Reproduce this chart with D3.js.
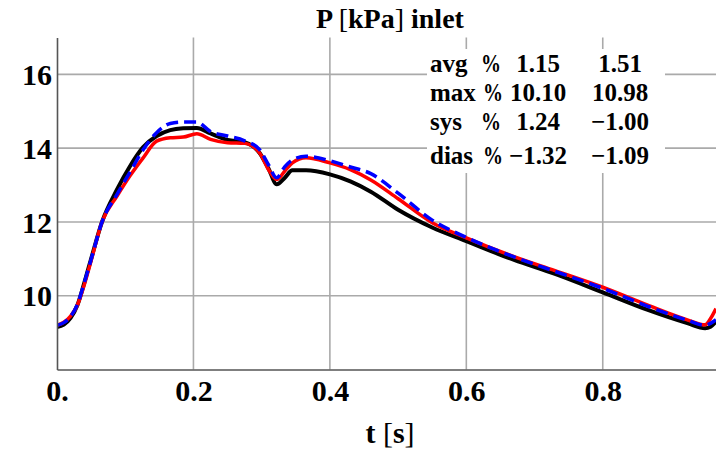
<!DOCTYPE html>
<html>
<head>
<meta charset="utf-8">
<script src="https://cdn.jsdelivr.net/npm/d3@7"></script>
<style>
  html, body { margin: 0; padding: 0; background: #fff; }
  svg { display: block; }
  text { font-family: "Liberation Serif", "DejaVu Serif", serif; }
</style>
</head>
<body>
<svg id="chart" width="716" height="454"></svg>
<script>
// ---- data ----
const time = [0, 0.01, 0.02, 0.03, 0.04, 0.05, 0.066, 0.088, 0.107, 0.126, 0.146, 0.166, 0.185, 0.205, 0.225, 0.25, 0.275, 0.297, 0.31, 0.322, 0.334, 0.345, 0.365, 0.4, 0.43, 0.46, 0.5, 0.55, 0.6, 0.67, 0.73, 0.8, 0.865, 0.925, 0.95, 0.958, 0.966];
const pressureBlack = [9.15, 9.22, 9.4, 9.75, 10.35, 11.0, 12.0, 12.88, 13.51, 14.02, 14.33, 14.49, 14.54, 14.55, 14.4, 14.22, 14.16, 13.87, 13.45, 13.02, 13.2, 13.4, 13.4, 13.29, 13.1, 12.82, 12.33, 11.85, 11.48, 10.97, 10.59, 10.09, 9.62, 9.25, 9.12, 9.16, 9.3];
const pressureRed   = [9.2, 9.28, 9.45, 9.75, 10.3, 10.95, 12.0, 12.7, 13.25, 13.73, 14.19, 14.28, 14.3, 14.39, 14.24, 14.15, 14.13, 13.87, 13.42, 13.15, 13.38, 13.6, 13.74, 13.6, 13.42, 13.14, 12.63, 11.98, 11.57, 11.06, 10.68, 10.23, 9.75, 9.34, 9.21, 9.38, 9.65];
const pressureBlue  = [9.2, 9.27, 9.44, 9.77, 10.35, 10.98, 12.0, 12.75, 13.35, 13.95, 14.42, 14.67, 14.71, 14.71, 14.45, 14.33, 14.2, 13.96, 13.55, 13.2, 13.5, 13.68, 13.78, 13.66, 13.49, 13.31, 12.78, 12.05, 11.58, 11.05, 10.66, 10.2, 9.72, 9.33, 9.2, 9.25, 9.35];

const xTicks = [0, 0.2, 0.4, 0.6, 0.8];
const xTickLabels = ["0.", "0.2", "0.4", "0.6", "0.8"];
const yTicks = [10, 12, 14, 16];
const yTickLabels = ["10", "12", "14", "16"];

const statRows = ["avg", "max", "sys", "dias"];
const statCol1 = ["1.15", "10.10", "1.24", "\u22121.32"];
const statCol2 = ["1.51", "10.98", "\u22121.00", "\u22121.09"];

// ---- layout ----
const svg = d3.select("#chart");
const mLeft = 57, mRight = 716, mTop = 37.5, mBottom = 369.5;
const x = d3.scaleLinear().domain([0, 0.966]).range([mLeft, mRight]);
const y = d3.scaleLinear().domain([8, 17]).range([mBottom, mTop]);

// grid
const grid = svg.append("g");
grid.selectAll("line.v").data(xTicks.slice(1)).join("line")
  .attr("x1", d => x(d)).attr("x2", d => x(d))
  .attr("y1", mTop).attr("y2", mBottom)
  .attr("stroke", "#aaaaaa").attr("stroke-width", 1.6);
grid.selectAll("line.h").data(yTicks).join("line")
  .attr("x1", mLeft).attr("x2", mRight)
  .attr("y1", d => y(d)).attr("y2", d => y(d))
  .attr("stroke", "#aaaaaa").attr("stroke-width", 1.6);

// curves
svg.append("clipPath").attr("id", "clip").append("rect")
  .attr("x", mLeft).attr("y", mTop).attr("width", mRight - mLeft).attr("height", mBottom - mTop);
const line = vals => d3.line()
  .x((d, i) => x(time[i]))
  .y(d => y(d))
  .curve(d3.curveMonotoneX)(vals);
const curves = svg.append("g").attr("clip-path", "url(#clip)");
curves.append("path").attr("d", line(pressureBlack))
  .attr("fill", "none").attr("stroke", "#000").attr("stroke-width", 4).attr("stroke-linejoin", "round");
curves.append("path").attr("d", line(pressureRed))
  .attr("fill", "none").attr("stroke", "#ff0000").attr("stroke-width", 3.5).attr("stroke-linejoin", "round");
curves.append("path").attr("d", line(pressureBlue))
  .attr("fill", "none").attr("stroke", "#0000ff").attr("stroke-width", 3.5)
  .attr("stroke-dasharray", "12,6");

// axes
const yAxis = d3.axisLeft(y).tickValues(yTicks).tickSize(0).tickPadding(5)
  .tickFormat((d, i) => yTickLabels[i]);
const gy = svg.append("g").attr("transform", `translate(${mLeft},0)`).call(yAxis);
const xAxis = d3.axisBottom(x).tickValues(xTicks).tickSize(0).tickPadding(10)
  .tickFormat((d, i) => xTickLabels[i]);
const gx = svg.append("g").attr("transform", `translate(0,${mBottom})`).call(xAxis);
[gx, gy].forEach(g => {
  g.select(".domain").attr("stroke", "#555").attr("stroke-width", 1.6);
  g.selectAll("text").attr("font-family", "Liberation Serif, serif")
    .attr("font-weight", "bold").attr("font-size", 30).attr("fill", "#000");
});
gy.selectAll("text").attr("dy", "0.34em");

// title
const title = svg.append("text").attr("x", 390).attr("y", 28).attr("text-anchor", "middle")
  .attr("font-size", 28).attr("font-weight", "bold");
title.append("tspan").text("P ");
title.append("tspan").attr("font-weight", "normal").text("[");
title.append("tspan").text("kPa");
title.append("tspan").attr("font-weight", "normal").text("]");
title.append("tspan").text(" inlet");

const xl = svg.append("text").attr("x", 390).attr("y", 443).attr("text-anchor", "middle")
  .attr("font-size", 30).attr("font-weight", "bold");
xl.append("tspan").text("t ");
xl.append("tspan").attr("font-weight", "normal").text("[");
xl.append("tspan").text("s");
xl.append("tspan").attr("font-weight", "normal").text("]");

// stats box
svg.append("rect").attr("x", 427).attr("y", 49).attr("width", 238).attr("height", 124).attr("fill", "#fff");
const rowY = [72, 101, 130, 164];
const st = svg.append("g").attr("font-size", 25).attr("font-weight", "bold");
st.selectAll("text.lab").data(statRows).join("text")
  .attr("x", 430).attr("y", (d, i) => rowY[i]).text(d => d);
st.selectAll("text.pct").data(statRows).join("text")
  .attr("x", (d, i) => i === 0 || i === 2 ? 481 : 483).attr("y", (d, i) => rowY[i])
  .attr("textLength", 20).attr("lengthAdjust", "spacingAndGlyphs").text("%");
st.selectAll("text.c1").data(statCol1).join("text")
  .attr("x", 538).attr("y", (d, i) => rowY[i]).attr("text-anchor", "middle").text(d => d);
st.selectAll("text.c2").data(statCol2).join("text")
  .attr("x", 620).attr("y", (d, i) => rowY[i]).attr("text-anchor", "middle").text(d => d);
</script>
</body>
</html>
